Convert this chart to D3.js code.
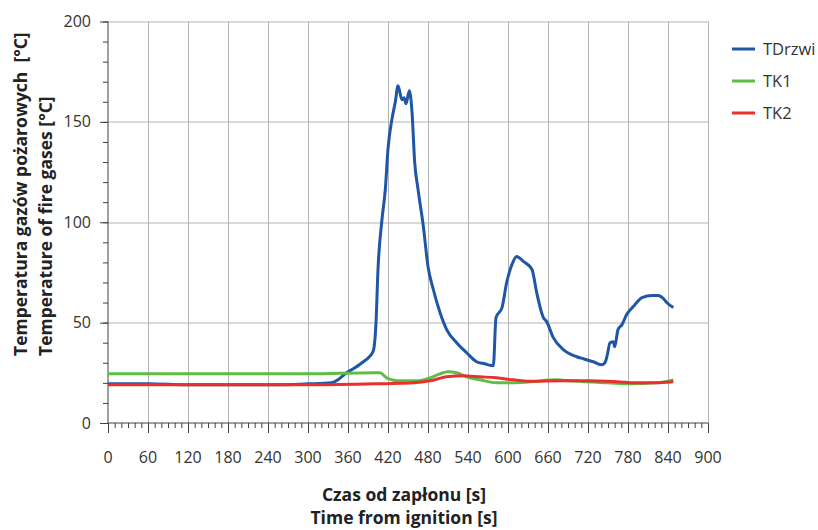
<!DOCTYPE html>
<html>
<head>
<meta charset="utf-8">
<script src="https://cdn.jsdelivr.net/npm/d3@7"></script>
<style>
  body { margin: 0; background: #fff; }
  text { font-family: "Open Sans", "DejaVu Sans", sans-serif; fill: #333; }
  .tick-label { font-size: 16px; }
  .axis-title { font-size: 17.5px; font-weight: bold; white-space: pre; fill: #222; }
  .legend { font-size: 16.5px; }
</style>
</head>
<body>
<div id="chart"></div>
<script>
// series values: [time s, temperature °C]
const tDrzwi = [
  [0, 19.5], [60, 19.5], [120, 19], [180, 19], [240, 19], [300, 19.5], [335, 20],
  [345, 21.5], [352, 23.5], [360, 25.5], [368, 27], [383, 30.5], [392, 33], [398, 36],
  [402, 50], [405, 76.5], [411, 101.5], [416, 116.5], [420, 136.5], [426, 151.5],
  [431, 160], [435, 168], [441, 161], [444, 162], [447, 159], [452, 165.5], [456, 155],
  [460, 130], [465, 116.5], [473, 98], [480, 78], [488, 66.5], [498, 55], [508, 46.5],
  [523, 40], [538, 35], [553, 30.5], [565, 29.5], [578, 28.5], [582, 52.5], [591, 57.5],
  [598, 70], [606, 79], [613, 83], [623, 80.5], [636, 76.5], [643, 65], [653, 52.5],
  [658, 50.5], [668, 42.5], [683, 36.5], [703, 33], [713, 32], [728, 30.5], [741, 29],
  [746, 30.5], [749, 34], [753, 40], [758, 40.5], [760, 38], [765, 46.5], [771, 49],
  [778, 54], [788, 58], [801, 62.5], [816, 63.5], [825, 63.5], [833, 62], [838, 60],
  [848, 57.5]
];
const tk1 = [
  [0, 24.5], [100, 24.5], [200, 24.5], [300, 24.5], [400, 25], [408, 25], [418, 22.5],
  [426, 21.5], [433, 21], [463, 21], [483, 22.5], [498, 24.5], [510, 25.5], [523, 25],
  [538, 23], [558, 21.5], [583, 20], [603, 20], [633, 20.5], [673, 21.5], [693, 21],
  [720, 20.5], [750, 20], [783, 19.5], [823, 20], [848, 21.5]
];
const tk2 = [
  [0, 19], [100, 19], [200, 19], [300, 19], [400, 19.5], [440, 19.8], [458, 20],
  [483, 21], [508, 23], [533, 23.5], [558, 23], [583, 22.5], [608, 21.5], [633, 20.8],
  [683, 21], [720, 21], [750, 20.8], [793, 20], [820, 20], [848, 20.5]
];
const seriesNames = ["TDrzwi", "TK1", "TK2"];
const seriesColors = ["#1f56a6", "#5ebd45", "#e8302d"];
const xTicks = d3.range(0, 901, 60);
const yTicks = [0, 50, 100, 150, 200];

const W = 818, H = 530;
const margin = { top: 21.5, left: 108 };
const width = 600, height = 401.5;

const svg = d3.select("#chart").append("svg")
  .attr("width", W).attr("height", H);

const g = svg.append("g")
  .attr("transform", `translate(${margin.left}, ${margin.top})`);

const x = d3.scaleLinear().domain([0, 900]).range([0, width]);
const y = d3.scaleLinear().domain([0, 200]).range([height, 0]);

// grid
g.append("g")
  .selectAll("line")
  .data(xTicks.slice(1))
  .join("line")
  .attr("x1", d => Math.round(x(d)) + 0.5).attr("x2", d => Math.round(x(d)) + 0.5)
  .attr("y1", 0).attr("y2", height)
  .attr("stroke", "#b4b4b4").attr("stroke-width", 1);
g.append("g")
  .selectAll("line")
  .data(yTicks.slice(1))
  .join("line")
  .attr("x1", 0).attr("x2", width)
  .attr("y1", d => Math.round(y(d)) + 0.5).attr("y2", d => Math.round(y(d)) + 0.5)
  .attr("stroke", "#b4b4b4").attr("stroke-width", 1);

// x axis: minor ticks every 10 s, major every 60 s
const xAxisG = g.append("g").attr("transform", `translate(0, ${height})`);
xAxisG.call(d3.axisBottom(x).tickValues(d3.range(0, 901, 10)).tickSize(5).tickFormat(""))
  .call(a => a.select(".domain").remove());
xAxisG.append("g")
  .call(d3.axisBottom(x).tickValues(xTicks).tickSize(10).tickFormat(""))
  .call(a => a.select(".domain").remove());
xAxisG.selectAll("line").attr("stroke", "#404040");
xAxisG.append("line").attr("x1", 0).attr("x2", width).attr("stroke", "#404040");
xAxisG.selectAll(".xlab")
  .data(xTicks)
  .join("text")
  .attr("class", "tick-label")
  .attr("x", d => x(d))
  .attr("y", 40)
  .attr("text-anchor", "middle")
  .text(d => d);

// y axis: minor ticks every 10, major every 50
const yAxisG = g.append("g");
yAxisG.call(d3.axisLeft(y).tickValues(d3.range(0, 201, 10)).tickSize(5).tickFormat(""))
  .call(a => a.select(".domain").remove());
yAxisG.append("g")
  .call(d3.axisLeft(y).tickValues(yTicks).tickSize(8).tickFormat(""))
  .call(a => a.select(".domain").remove());
yAxisG.selectAll("line").attr("stroke", "#404040");
yAxisG.append("line").attr("y1", 0).attr("y2", height).attr("stroke", "#404040");
yAxisG.selectAll(".ylab")
  .data(yTicks)
  .join("text")
  .attr("class", "tick-label")
  .attr("x", -17)
  .attr("y", d => y(d))
  .attr("dy", "0.35em")
  .attr("text-anchor", "end")
  .text(d => d);

// lines
const line = d3.line().curve(d3.curveMonotoneX).x(d => x(d[0])).y(d => y(d[1]));
[tDrzwi, tk1, tk2].forEach((s, i) => {
  g.append("path")
    .datum(s)
    .attr("fill", "none")
    .attr("stroke", seriesColors[i])
    .attr("stroke-width", 3)
    .attr("stroke-linejoin", "round")
    .attr("d", line);
});

// axis titles
const yTitle = svg.append("text")
  .attr("class", "axis-title")
  .attr("transform", "translate(27, 356) rotate(-90)")
  .attr("text-anchor", "start");
yTitle.append("tspan").attr("x", 0).attr("y", 0).text("Temperatura gazów pożarowych  [°C]");
yTitle.append("tspan").attr("x", 0).attr("y", 25).text("Temperature of fire gases [°C]");

svg.append("text")
  .attr("class", "axis-title")
  .attr("x", 404).attr("y", 501)
  .attr("text-anchor", "middle")
  .text("Czas od zapłonu [s]");
svg.append("text")
  .attr("class", "axis-title")
  .attr("x", 404).attr("y", 524)
  .attr("text-anchor", "middle")
  .text("Time from ignition [s]");

// legend
const legend = svg.append("g").attr("transform", "translate(732, 49)");
seriesNames.forEach((name, i) => {
  legend.append("line")
    .attr("x1", 0).attr("x2", 23)
    .attr("y1", i * 32).attr("y2", i * 32)
    .attr("stroke", seriesColors[i]).attr("stroke-width", 3);
  legend.append("text")
    .attr("class", "legend")
    .attr("x", 31).attr("y", i * 32)
    .attr("dy", "0.35em")
    .text(name);
});
</script>
</body>
</html>
